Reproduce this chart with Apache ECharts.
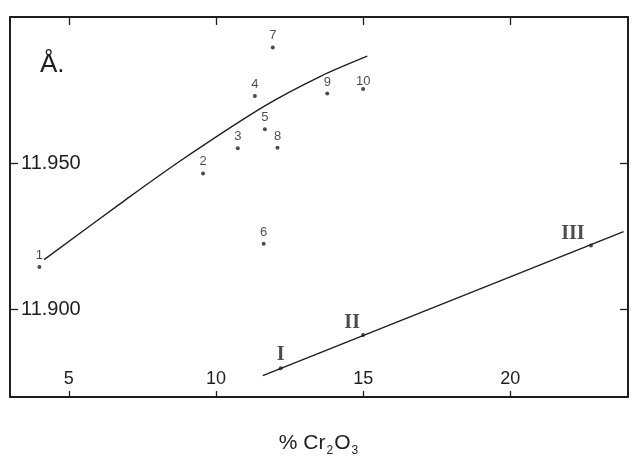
<!DOCTYPE html>
<html>
<head>
<meta charset="utf-8">
<script src="https://cdn.jsdelivr.net/npm/echarts@6/dist/echarts.min.js"></script>
<style>
html,body{margin:0;padding:0;background:#fff;}
#chart{width:635px;height:457px;}
</style>
</head>
<body>
<div id="chart"></div>
<script>
// ---- data ----
const sampleNames = ['1','2','3','4','5','6','7','8','9','10'];
const sampleX = [4.0, 9.56, 10.74, 11.32, 11.66, 11.62, 11.93, 12.09, 13.78, 15.0];
const sampleY = [11.9145, 11.9465, 11.9551, 11.973, 11.9616, 11.9224, 11.9896, 11.9553, 11.9738, 11.9754];

const curveX = [4.16, 6.96, 8.82, 11.63, 13.55, 15.14];
const curveY = [11.917, 11.9377, 11.951, 11.9694, 11.9797, 11.9866];

const refNames = ['I','II','III'];
const refX = [12.2, 15.0, 22.74];
const refY = [11.8798, 11.8912, 11.9218];

const lineX = [11.59, 23.85];
const lineY = [11.8773, 11.9266];

const xTickValues = [5, 10, 15, 20];
const yTickValues = [11.90, 11.95];

// ---- chart ----
const ink = '#1e1e1e';
const sansFont = 'Liberation Sans';
const refLabelOffsets = [[0, -14], [-11, -12], [-18, -12]];

const chart = echarts.init(document.getElementById('chart'), null, {renderer: 'canvas'});

const zip = (xs, ys) => xs.map((x, i) => [x, ys[i]]);

const option = {
  backgroundColor: '#ffffff',
  animation: false,
  grid: {left: 10, right: 7, top: 17, bottom: 60, containLabel: false, outerBoundsMode: 'none'},
  xAxis: [
    {
      type: 'value', position: 'bottom', min: 3, max: 24,
      name: '{a|% Cr}{s|2}{a|O}{s|3}',
      nameLocation: 'middle', nameGap: 32,
      nameTextStyle: {
        rich: {
          a: {fontFamily: sansFont, fontSize: 21, color: ink},
          s: {fontFamily: sansFont, fontSize: 12, color: ink, padding: [16, 1, 0, 1]}
        }
      },
      axisLine: {show: true, onZero: false, lineStyle: {color: ink, width: 2}},
      axisTick: {show: true, inside: true, length: 6, customValues: xTickValues, lineStyle: {color: ink, width: 1.3}},
      axisLabel: {show: true, inside: true, margin: 9, customValues: xTickValues, fontFamily: sansFont, fontSize: 18, color: ink},
      splitLine: {show: false}
    },
    {
      type: 'value', position: 'top', min: 3, max: 24,
      axisLine: {show: true, onZero: false, lineStyle: {color: ink, width: 2}},
      axisTick: {show: true, inside: true, length: 8, customValues: xTickValues, lineStyle: {color: ink, width: 1.3}},
      axisLabel: {show: false},
      splitLine: {show: false}
    }
  ],
  yAxis: [
    {
      type: 'value', position: 'left', min: 11.87, max: 12.0,
      axisLine: {show: true, onZero: false, lineStyle: {color: ink, width: 2}},
      axisTick: {show: true, inside: true, length: 8, customValues: yTickValues, lineStyle: {color: ink, width: 1.3}},
      axisLabel: {show: true, inside: true, margin: 11, customValues: yTickValues,
        formatter: v => Number(v).toFixed(3), fontFamily: sansFont, fontSize: 20, color: ink},
      splitLine: {show: false}
    },
    {
      type: 'value', position: 'right', min: 11.87, max: 12.0,
      axisLine: {show: true, onZero: false, lineStyle: {color: ink, width: 2}},
      axisTick: {show: true, inside: true, length: 8, customValues: yTickValues, lineStyle: {color: ink, width: 1.3}},
      axisLabel: {show: false},
      splitLine: {show: false}
    }
  ],
  graphic: [
    {
      type: 'text', left: 40, top: 52,
      style: {text: 'Å.', font: '26px "Liberation Sans"', fill: ink}
    }
  ],
  series: [
    {
      name: 'curve', type: 'line', smooth: 0.3, showSymbol: false, symbol: 'none',
      data: zip(curveX, curveY),
      lineStyle: {color: ink, width: 1.4}, silent: true, z: 2
    },
    {
      name: 'line', type: 'line', showSymbol: false, symbol: 'none',
      data: zip(lineX, lineY),
      lineStyle: {color: ink, width: 1.4}, silent: true, z: 2
    },
    {
      name: 'samples', type: 'scatter', symbol: 'circle', symbolSize: 4,
      itemStyle: {color: ink},
      data: sampleX.map((x, i) => ({
        name: sampleNames[i], value: [x, sampleY[i]],
        label: i === 9 ? {offset: [0, 4]} : undefined
      })),
      label: {show: true, position: 'top', distance: 3, formatter: p => p.name,
        fontFamily: sansFont, fontSize: 13, color: ink},
      z: 3
    },
    {
      name: 'refs', type: 'scatter', symbol: 'circle', symbolSize: 4,
      itemStyle: {color: ink},
      data: refX.map((x, i) => ({
        name: refNames[i], value: [x, refY[i]],
        label: {offset: refLabelOffsets[i]}
      })),
      label: {show: true, position: 'inside', formatter: p => p.name,
        fontFamily: 'Liberation Serif', fontWeight: 'bold', fontSize: 20, color: ink},
      z: 3
    }
  ]
};

chart.setOption(option);
</script>
</body>
</html>
